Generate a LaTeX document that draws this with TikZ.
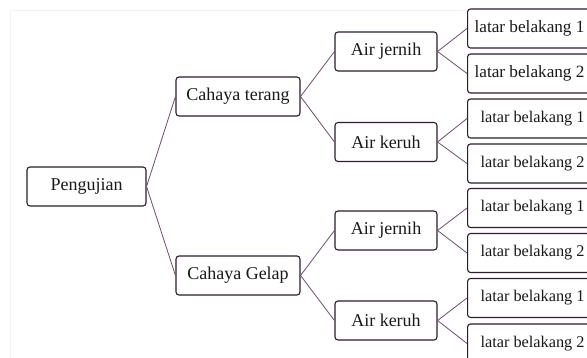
\documentclass[tikz,border=0pt]{standalone}
\usepackage{fontspec}
\setmainfont{Liberation Serif}
\definecolor{boxline}{HTML}{2B1D2E}
\definecolor{conn}{HTML}{6E4F6E}
\tikzset{
  box/.style={draw=boxline, line width=1.1pt, rounded corners=3pt, inner sep=0pt,
    minimum height=39pt, fill=white, font=\fontsize{18pt}{20pt}\selectfont, text=black!90},
  mainbox/.style={box, minimum width=#1},
  leafbox/.style={box, minimum width=124pt, anchor=west, font=\fontsize{17.2pt}{19pt}\selectfont},
  leafsmall/.style={box, minimum width=130pt, anchor=west, font=\fontsize{16.3pt}{18pt}\selectfont},
  link/.style={draw=conn, line width=0.8pt}
}
\begin{document}
\begin{tikzpicture}[x=1pt,y=1pt]
\useasboundingbox (0,0) rectangle (587,358);
\fill[white] (0,0) rectangle (587,358);
\clip (0,0) rectangle (587,358);
\draw[black!5, line width=0.8pt] (10,0) -- (10,348) -- (587,348);
\node[mainbox=119pt] (P) at (86.5,171.5) {Pengujian};
\node[mainbox=124pt] (CT) at (238,261.5) {Cahaya terang};
\node[mainbox=124pt] (CG) at (238,82.5) {Cahaya Gelap};
\node[mainbox=102pt] (AJ1) at (386,306.5) {Air jernih};
\node[mainbox=102pt] (AK1) at (386,216) {Air keruh};
\node[mainbox=102pt] (AJ2) at (386,127.5) {Air jernih};
\node[mainbox=102pt] (AK2) at (386,37.5) {Air keruh};
\node[leafbox] (L1) at (467,329.5) {latar belakang 1};
\node[leafbox] (L2) at (467,284.5) {latar belakang 2};
\node[leafsmall] (L3) at (467,239.5) {latar belakang 1};
\node[leafsmall] (L4) at (467,194.5) {latar belakang 2};
\node[leafsmall] (L5) at (467,150) {latar belakang 1};
\node[leafsmall] (L6) at (467,105) {latar belakang 2};
\node[leafsmall] (L7) at (467,60) {latar belakang 1};
\node[leafsmall] (L8) at (467,14.5) {latar belakang 2};
\path[link] (P.east) -- (CT.west);
\path[link] (P.east) -- (CG.west);
\path[link] (CT.east) -- (AJ1.west);
\path[link] (CT.east) -- (AK1.west);
\path[link] (CG.east) -- (AJ2.west);
\path[link] (CG.east) -- (AK2.west);
\path[link] (AJ1.east) -- (L1.west);
\path[link] (AJ1.east) -- (L2.west);
\path[link] (AK1.east) -- (L3.west);
\path[link] (AK1.east) -- (L4.west);
\path[link] (AJ2.east) -- (L5.west);
\path[link] (AJ2.east) -- (L6.west);
\path[link] (AK2.east) -- (L7.west);
\path[link] (AK2.east) -- (L8.west);
\end{tikzpicture}
\end{document}
